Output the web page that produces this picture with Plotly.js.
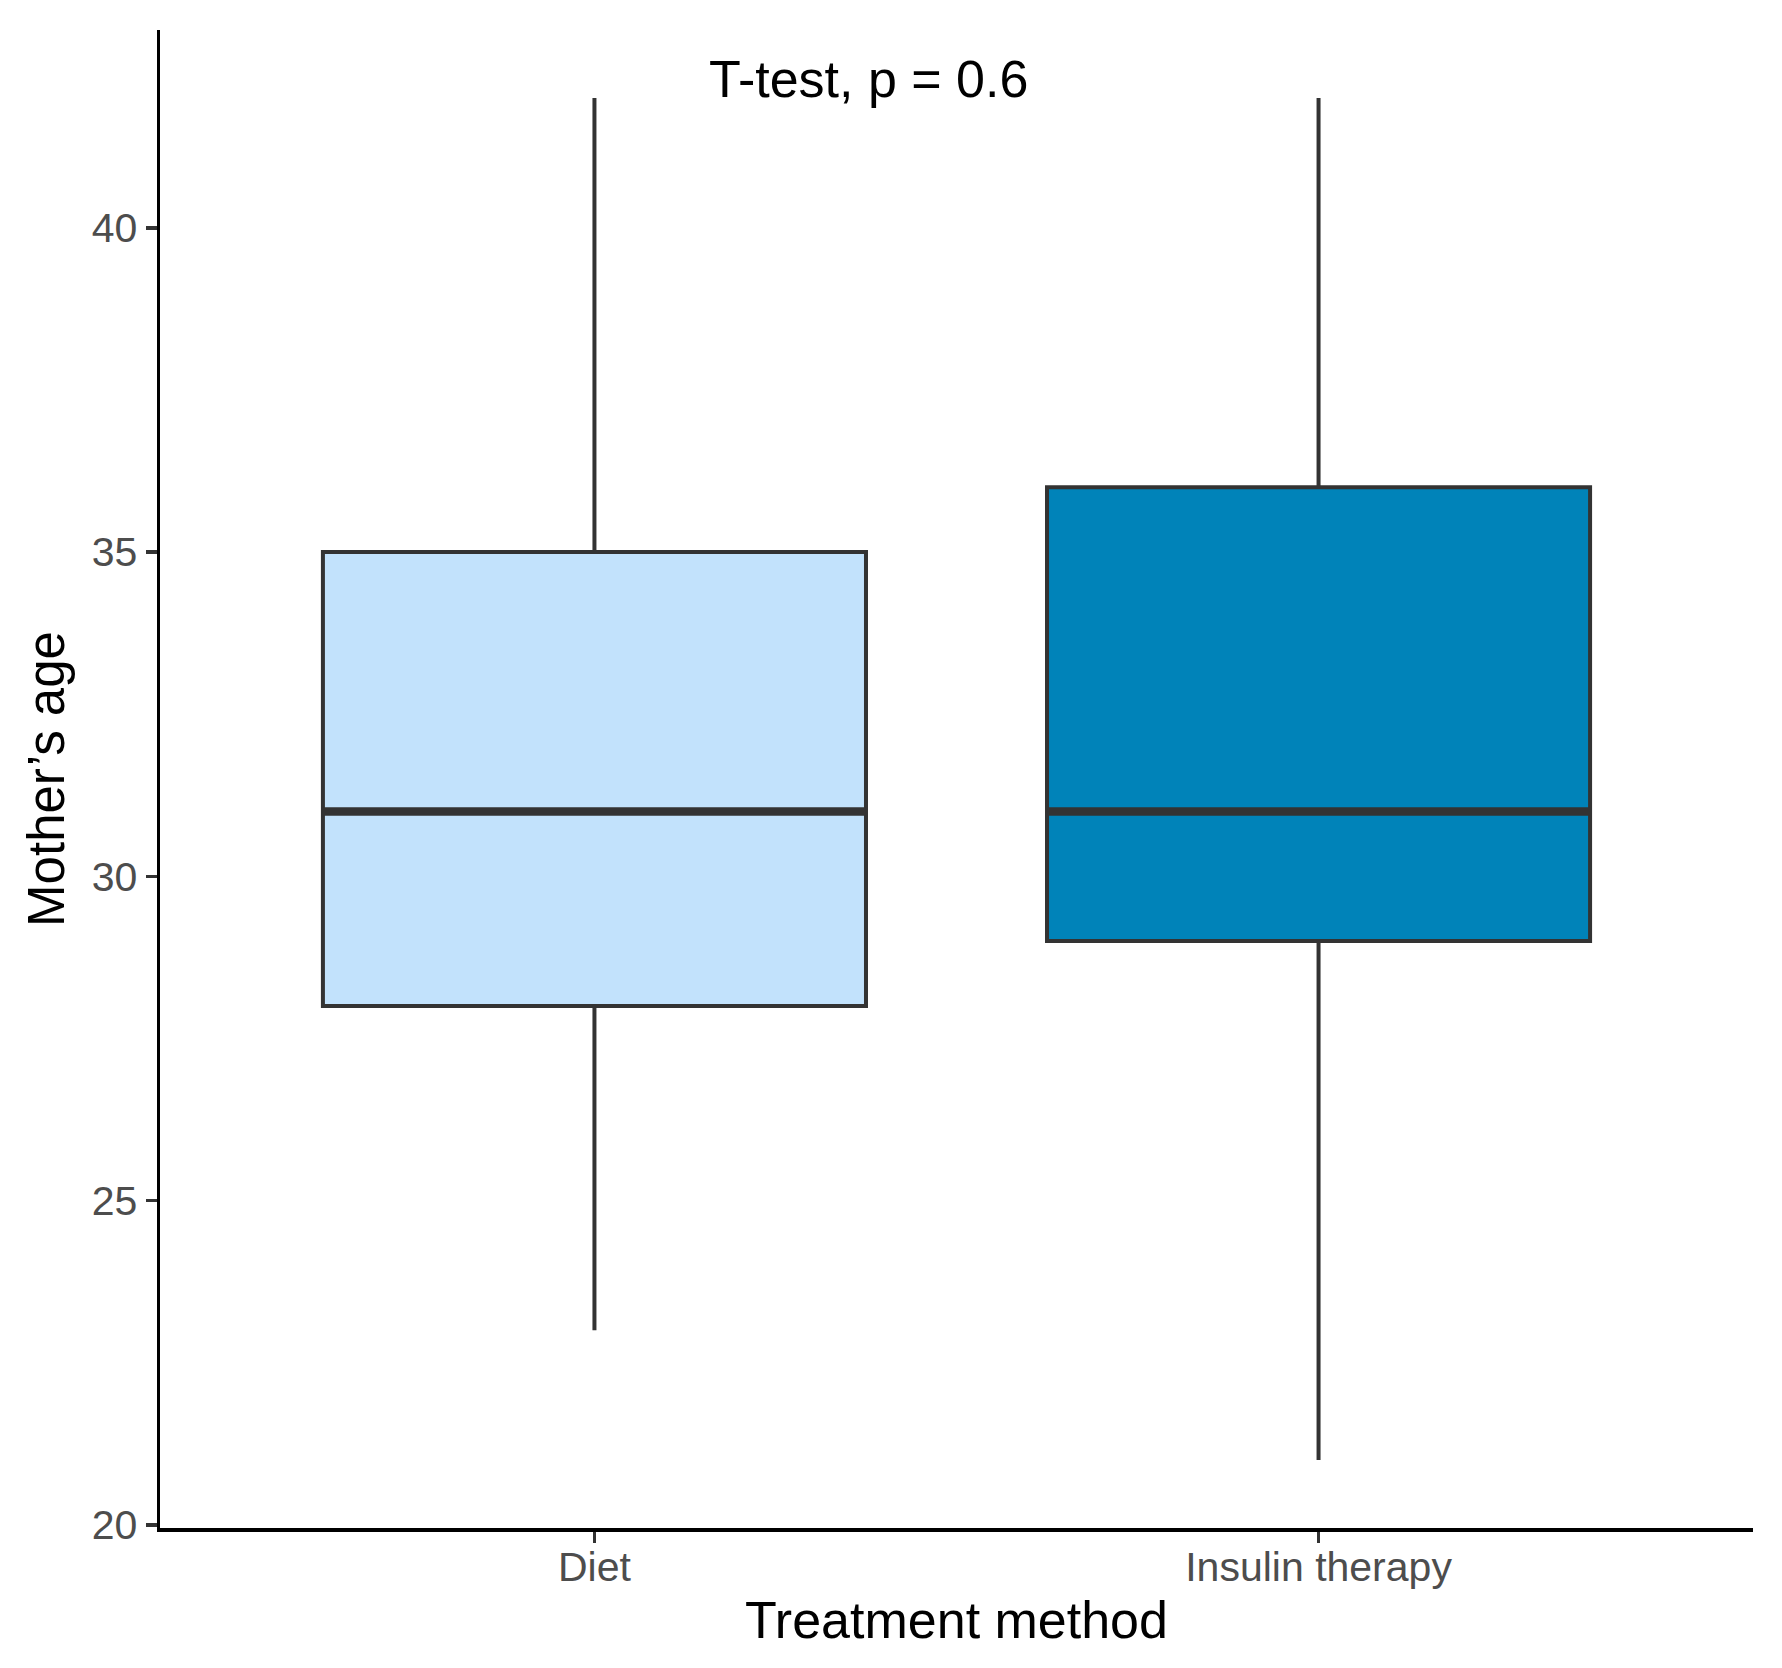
<!DOCTYPE html>
<html>
<head>
<meta charset="utf-8">
<script src="https://cdn.plot.ly/plotly-3.0.1.min.js"></script>
<style>html,body{margin:0;padding:0;background:#fff;}#chart{width:1782px;height:1668px;}</style>
</head>
<body>
<div id="chart"></div>
<script>
// Data
const categories = ["Diet", "Insulin therapy"];
const catPos = [1, 2];
const q1Vals = [28, 29];
const medianVals = [31, 31];
const q3Vals = [35, 36];
const lowerWhisker = [23, 21];
const upperWhisker = [42, 42];
const fillColors = ["#C2E2FC", "#0083B9"];
const yTicks = [20, 25, 30, 35, 40];
const testLabel = "T-test, p = 0.6";

const boxWidth = 0.75;
const outline = "#333333";
const FONT = "Liberation Sans, Arial, sans-serif";

const traces = [];
categories.forEach((c, i) => {
  traces.push({
    type: "box",
    name: c,
    x: [catPos[i]],
    q1: [q1Vals[i]],
    median: [medianVals[i]],
    q3: [q3Vals[i]],
    lowerfence: [lowerWhisker[i]],
    upperfence: [upperWhisker[i]],
    width: boxWidth,
    whiskerwidth: 0,
    fillcolor: fillColors[i],
    line: {color: outline, width: 4},
    boxpoints: false,
    hoverinfo: "skip",
    showlegend: false
  });
});
// thicker median line (ggplot fatten)
categories.forEach((c, i) => {
  traces.push({
    type: "scatter",
    mode: "lines",
    x: [catPos[i] - boxWidth / 2, catPos[i] + boxWidth / 2],
    y: [medianVals[i], medianVals[i]],
    line: {color: outline, width: 8.5},
    hoverinfo: "skip",
    showlegend: false
  });
});

const yMin = Math.min(...lowerWhisker), yMax = Math.max(...upperWhisker);
const yPad = (yMax - yMin) * 0.05;

const layout = {
  width: 1782,
  height: 1668,
  paper_bgcolor: "#ffffff",
  plot_bgcolor: "#ffffff",
  margin: {l: 160, r: 29, t: 30, b: 140},
  font: {family: FONT, color: "#000000"},
  showlegend: false,
  xaxis: {
    range: [0.4, 2.6],
    tickvals: catPos,
    ticktext: categories,
    showgrid: false,
    zeroline: false,
    showline: true,
    linecolor: "#000000",
    linewidth: 3.5,
    ticks: "outside",
    ticklen: 11,
    tickwidth: 3.5,
    tickcolor: "#333333",
    ticklabelstandoff: -11,
    tickfont: {family: FONT, size: 41, color: "#4D4D4D"},
    title: {text: "Treatment method", font: {family: FONT, size: 52, color: "#000000"}, standoff: 14},
    automargin: false
  },
  yaxis: {
    range: [yMin - yPad, yMax + yPad],
    tickvals: yTicks,
    showgrid: false,
    zeroline: false,
    showline: true,
    linecolor: "#000000",
    linewidth: 3.5,
    ticks: "outside",
    ticklen: 11,
    tickwidth: 3.5,
    tickcolor: "#333333",
    tickfont: {family: FONT, size: 41, color: "#4D4D4D"},
    title: {text: "Mother’s age", font: {family: FONT, size: 51, color: "#000000"}, standoff: 12},
    automargin: false
  },
  annotations: [{
    x: 1.379,
    y: 42.3,
    xref: "x",
    yref: "y",
    text: testLabel,
    showarrow: false,
    font: {family: FONT, size: 52, color: "#000000"},
    xanchor: "center",
    yanchor: "middle"
  }]
};

Plotly.newPlot("chart", traces, layout, {displayModeBar: false, staticPlot: true});
</script>
</body>
</html>
